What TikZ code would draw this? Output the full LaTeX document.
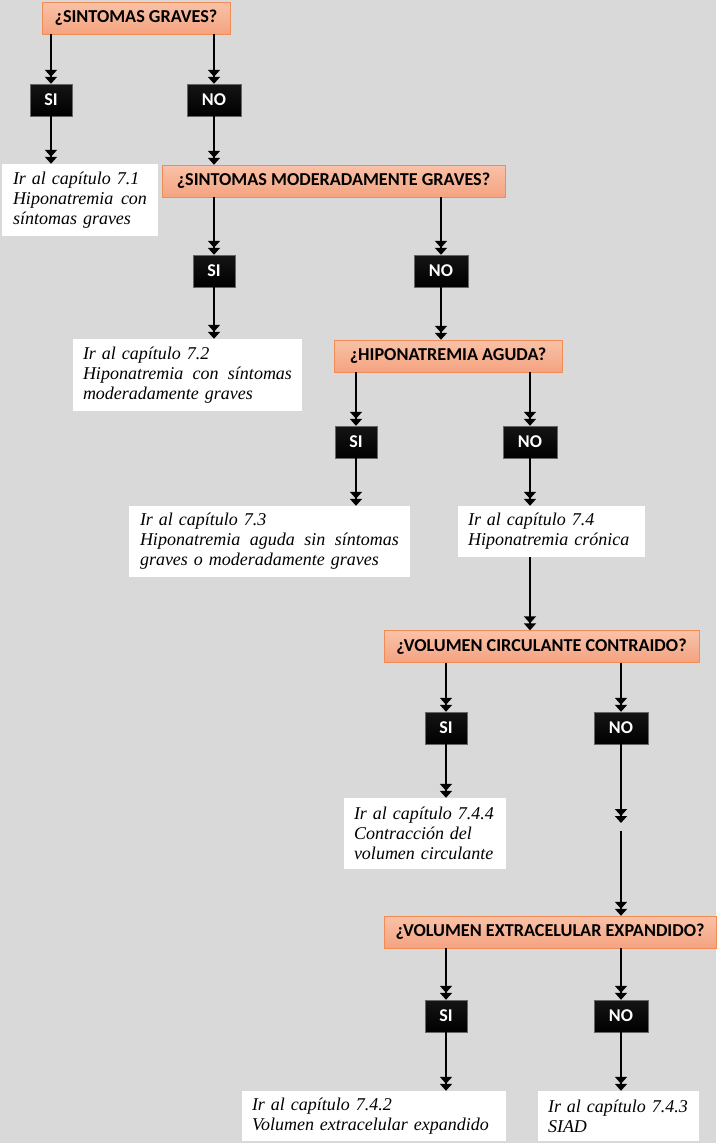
\documentclass[tikz,border=0pt]{standalone}
\usepackage{fontspec}
\setmainfont{Liberation Serif}
\newfontfamily\carlito{Carlito}
\usetikzlibrary{arrows.meta}

\definecolor{fondo}{RGB}{217,217,217}
\definecolor{naranjaA}{RGB}{249,194,168}
\definecolor{naranjaB}{RGB}{244,163,128}
\definecolor{naranjaC}{RGB}{243,140,84}

\tikzset{
    pregunta/.style={draw=naranjaC, top color=naranjaA, bottom color=naranjaB, inner sep=0pt,
        minimum height=32pt, font=\carlito\bfseries\fontsize{18.2}{20}\selectfont},
    resp/.style={draw=black!60, top color=black!92, bottom color=black, text=white, inner sep=0pt,
        minimum width=42pt, minimum height=32pt, font=\carlito\bfseries\fontsize{18}{20}\selectfont},
    destino/.style={fill=white, inner sep=0pt, align=left, font=\itshape\fontsize{18}{20}\selectfont},
    flecha/.style={line width=2.2pt, -{Triangle[length=7pt,width=12pt]Triangle[length=7pt,width=12pt]}}
}

\begin{document}
\begin{tikzpicture}[x=1pt,y=-1pt]
    \fill[fondo] (0,0) rectangle (716,1143);
    \useasboundingbox (0,0) rectangle (716,1143);

    % preguntas
    \node[pregunta, minimum width=188pt] (q1) at (136,18) {¿SINTOMAS GRAVES?};
    \node[pregunta, minimum width=343pt] (q2) at (333.5,181) {¿SINTOMAS MODERADAMENTE GRAVES?};
    \node[pregunta, minimum width=228pt] (q3) at (448,356) {¿HIPONATREMIA AGUDA?};
    \node[pregunta, minimum width=315pt] (q4) at (541.5,646.5) {¿VOLUMEN CIRCULANTE CONTRAIDO?};
    \node[pregunta, minimum width=332pt] (q5) at (550,932) {¿VOLUMEN EXTRACELULAR EXPANDIDO?};

    % respuestas
    \node[resp] (si1) at (51,100) {SI};   \node[resp, minimum width=54pt] (no1) at (214,100) {NO};
    \node[resp] (si2) at (214,271) {SI};  \node[resp, minimum width=54pt] (no2) at (441,271) {NO};
    \node[resp] (si3) at (356,442) {SI};  \node[resp, minimum width=54pt] (no3) at (530,442) {NO};
    \node[resp] (si4) at (446,728) {SI};  \node[resp, minimum width=54pt] (no4) at (621,728) {NO};
    \node[resp] (si5) at (446,1016) {SI}; \node[resp, minimum width=54pt] (no5) at (621,1016) {NO};

    % capitulos
    \node[destino, minimum width=156pt, minimum height=72pt, text width=134pt] (t1) at (80,200)
        {Ir al capítulo 7.1\\ \makebox[134pt]{Hiponatremia\hfill con}\\ síntomas graves};
    \node[destino, minimum width=229pt, minimum height=72pt, text width=209pt] (t2) at (187.5,375)
        {Ir al capítulo 7.2\\ \makebox[209pt]{Hiponatremia\hfill con\hfill síntomas}\\ moderadamente graves};
    \node[destino, minimum width=281pt, minimum height=71pt, text width=259pt] (t3) at (269.5,541.5)
        {Ir al capítulo 7.3\\ \makebox[259pt]{Hiponatremia\hfill aguda\hfill sin\hfill síntomas}\\ graves o moderadamente graves};
    \node[destino, minimum width=187pt, minimum height=51pt, text width=167pt] (t4) at (551.5,531.5)
        {Ir al capítulo 7.4\\ Hiponatremia crónica};
    \node[destino, minimum width=162pt, minimum height=71pt, text width=142pt] (t5) at (425,833.5)
        {Ir al capítulo 7.4.4\\ Contracción del\\ volumen circulante};
    \node[destino, minimum width=264pt, minimum height=50pt, text width=244pt] (t6) at (374,1116)
        {Ir al capítulo 7.4.2\\ Volumen extracelular expandido};
    \node[destino, minimum width=161pt, minimum height=50pt, text width=141pt] (t7) at (618.5,1116)
        {Ir al capítulo 7.4.3\\ SIAD};

    \coordinate (corteA) at (621,823); \coordinate (corteB) at (621,831);

    % flechas
    \foreach \q/\r in {q1/si1,q1/no1,q2/si2,q2/no2,q3/si3,q3/no3,q4/si4,q4/no4,q5/si5,q5/no5}
        \draw[flecha] (\r |- \q.south) -- (\r.north);
    \foreach \r/\d in {si1/t1,no1/q2,si2/t2,no2/q3,si3/t3,no3/t4,si4/t5,si5/t6,no5/t7}
        \draw[flecha] (\r.south) -- (\r |- \d.north);
    \draw[flecha] (no3 |- t4.south) -- (no3 |- q4.north);
    \draw[flecha] (no4.south) -- (corteA);
    \draw[flecha] (corteB) -- (corteB |- q5.north);
\end{tikzpicture}
\end{document}
